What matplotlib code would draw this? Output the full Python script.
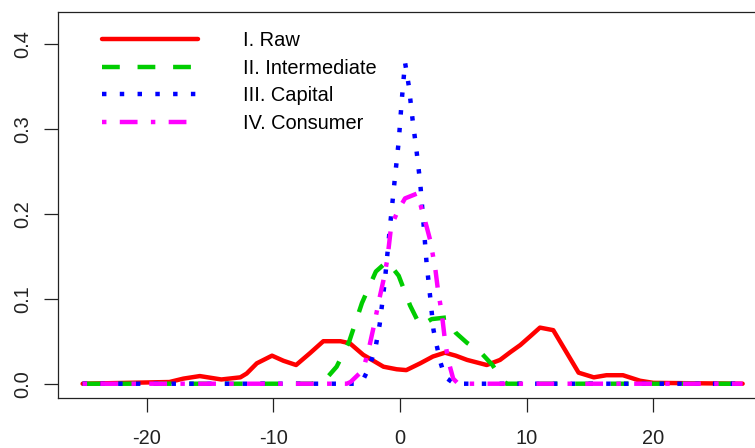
import numpy as np
import matplotlib
matplotlib.use("Agg")
import matplotlib.pyplot as plt

plt.rcParams['font.family'] = ['Liberation Sans', 'DejaVu Sans']

# density curves (x, y per series)
raw_x = [-25.05, -18.2, -17.1, -15.8, -14.1, -12.6, -12.1, -11.3, -10.1, -9.2, -8.2,
         -7.1, -6.05, -4.7, -3.95, -2.9, -1.3, -0.26, 0.5, 1.6, 2.6, 3.55, 4.4, 5.3,
         6.85, 7.9, 8.7, 9.5, 10.3, 11.05, 12.1, 13.1, 14.1, 15.3, 16.3, 17.6,
         18.95, 20.0, 27.05]
raw_y = [0.0, 0.002, 0.006, 0.009, 0.005, 0.0075, 0.012, 0.024, 0.033, 0.027, 0.022,
         0.036, 0.050, 0.050, 0.0475, 0.034, 0.020, 0.017, 0.016, 0.024, 0.032, 0.0365,
         0.033, 0.028, 0.022, 0.028, 0.037, 0.0455, 0.056, 0.066, 0.063, 0.038, 0.013,
         0.0075, 0.010, 0.010, 0.0035, 0.001, 0.0]

int_x = [-25.05, -7.0, -6.0, -5.0, -4.0, -3.0, -1.9, -1.0, -0.1, 0.8, 1.6, 2.5,
         3.7, 4.4, 5.3, 6.3, 7.3, 8.0, 8.4, 27.05]
int_y = [0.0, 0.0, 0.003, 0.02, 0.05, 0.095, 0.132, 0.144, 0.127, 0.092, 0.068,
         0.076, 0.078, 0.06, 0.048, 0.038, 0.022, 0.006, 0.0, 0.0]

cap_x = [-25.05, -3.6, -3.0, -2.4, -1.9, -1.6, -1.2, -0.8, -0.4, -0.1, 0.15, 0.4,
         0.7, 1.0, 1.3, 1.6, 1.85, 2.1, 2.4, 2.65, 2.9, 3.2, 3.55, 4.3, 27.05]
cap_y = [0.0, 0.0, 0.002, 0.02, 0.045, 0.07, 0.12, 0.183, 0.242, 0.285, 0.335, 0.378,
         0.35, 0.31, 0.275, 0.236, 0.19, 0.142, 0.1, 0.063, 0.045, 0.025, 0.008, 0.0, 0.0]

con_x = [-25.05, -4.2, -3.9, -3.2, -2.8, -2.4, -2.0, -1.7, -1.3, -1.0, -0.7, -0.15,
         0.4, 1.4, 1.7, 2.1, 2.4, 2.8, 3.0, 3.3, 3.55, 3.8, 4.2, 4.6, 27.05]
con_y = [0.0, 0.0, 0.002, 0.012, 0.022, 0.045, 0.072, 0.095, 0.122, 0.146, 0.185,
         0.204, 0.218, 0.224, 0.206, 0.185, 0.168, 0.134, 0.11, 0.083, 0.051, 0.028,
         0.006, 0.0, 0.0]

labels = ["I. Raw", "II. Intermediate", "III. Capital", "IV. Consumer"]
x_ticks = [-20, -10, 0, 10, 20]
y_ticks = [0.0, 0.1, 0.2, 0.3, 0.4]

fig = plt.figure(figsize=(7.55, 4.48), dpi=100)
ax = fig.add_axes([58.3 / 755, 50 / 448, (769 - 58.3) / 755, 385.6 / 448])

lw = 3.2
ax.plot(raw_x, raw_y, color='#FF0000', lw=lw, label=labels[0],
        solid_capstyle='round', solid_joinstyle='round')
ax.plot(int_x, int_y, color='#00CD00', lw=lw, ls=(0, (4, 4)), label=labels[1])
ax.plot(cap_x, cap_y, color='#0000FF', lw=lw, ls=(0, (1, 3)), label=labels[2])
ax.plot(con_x, con_y, color='#FF00FF', lw=lw, ls=(0, (1, 3, 4, 3)), label=labels[3])

ax.set_xlim(-26.97, 29.13)
ax.set_ylim(-0.0168, 0.4368)
ax.set_xticks(x_ticks)
ax.set_xticklabels([str(t) for t in x_ticks])
ax.set_yticks(y_ticks)
ax.set_yticklabels(["%.1f" % t for t in y_ticks], rotation=90, va='center')
ax.tick_params(axis='both', length=10, width=0.9, labelsize=14.4, colors='#222222')
ax.tick_params(axis='x', pad=12.5)
ax.tick_params(axis='y', pad=9)
for s in ax.spines.values():
    s.set_linewidth(0.9)
    s.set_color('#222222')

ax.legend(loc='upper left', bbox_to_anchor=(102 / 755, 1 - 31.5 / 448),
          bbox_transform=fig.transFigure, frameon=False, fontsize=14.4,
          handlelength=4.8, handletextpad=2.25, labelspacing=0.42,
          borderpad=0, borderaxespad=0)

fig.savefig('out.png', dpi=100)
